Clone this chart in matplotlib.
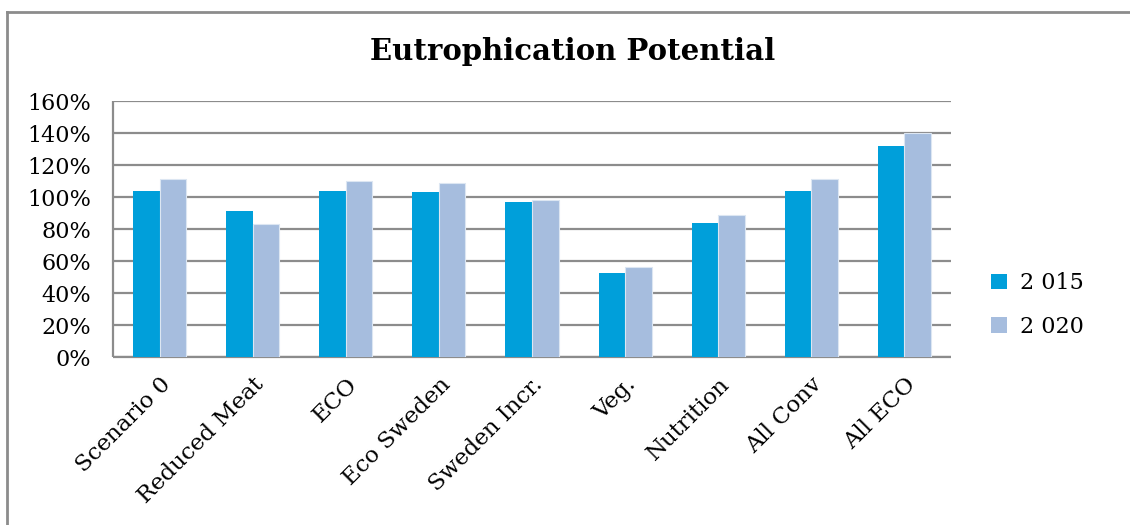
import numpy as np
import matplotlib.pyplot as plt
from matplotlib.patches import Patch
from matplotlib.lines import Line2D

categories = ["Scenario 0", "Reduced Meat", "ECO", "Eco Sweden", "Sweden Incr.",
              "Veg.", "Nutrition", "All Conv", "All ECO"]
series_names = ["2 015", "2 020"]
values_2015 = [104, 91, 103.5, 103, 97, 52.5, 83.5, 104, 132]
values_2020 = [111, 83, 110, 109, 98, 56, 89, 111, 140]
yticks = [0, 20, 40, 60, 80, 100, 120, 140, 160]

colors = ["#009FDA", "#A6BDDE"]
plt.rcParams["font.family"] = ["DejaVu Serif"]

fig = plt.figure(figsize=(11.3, 5.25), dpi=100)
W, H = 1130, 525

# plot area in pixels: x 113..951, y 101..357
ax = fig.add_axes([113 / W, 1 - 357 / H, (951 - 113) / W, (357 - 101) / H])

x = np.arange(len(categories))
bw = 0.285
ax.bar(x - bw / 2, values_2015, bw, color=colors[0], zorder=3)
ax.bar(x + bw / 2, values_2020, bw, color=colors[1], edgecolor="#DCE6F2",
       linewidth=0.8, zorder=3)

ax.set_xlim(-0.5, len(categories) - 0.5)
ax.set_ylim(0, 160)
ax.set_yticks(yticks)
ax.set_yticklabels([f"{v}%" for v in yticks], fontsize=16)
ax.yaxis.grid(True, color="#8C8C8C", linewidth=1.6, zorder=0)
ax.set_axisbelow(True)
ax.tick_params(length=0, pad=16)
ax.set_xticks(x)
ax.set_xticklabels(categories, rotation=45, ha="right", rotation_mode="anchor",
                   fontsize=16.5)
ax.tick_params(axis="x", pad=12)

for s in ["top", "right"]:
    ax.spines[s].set_visible(False)
for s in ["left", "bottom"]:
    ax.spines[s].set_color("#8C8C8C")
    ax.spines[s].set_linewidth(1.6)
    ax.spines[s].set_capstyle("butt")

fig.text(573 / W, 1 - 51 / H, "Eutrophication Potential", ha="center",
         va="center", fontsize=21, fontweight="bold")

handles = [Patch(facecolor=c) for c in colors]
fig.legend(handles, series_names, loc="center left",
           bbox_to_anchor=(971 / W, 1 - 305 / H), frameon=False, fontsize=16,
           handlelength=0.7, handleheight=0.7, handletextpad=0.6,
           labelspacing=0.95)

# outer chart frame (top and left edges)
fig.add_artist(Line2D([7 / W, 7 / W], [0, 1 - 12 / H], transform=fig.transFigure,
                      color="#8C8C8C", linewidth=2))
fig.add_artist(Line2D([7 / W, 1], [1 - 12 / H, 1 - 12 / H], transform=fig.transFigure,
                      color="#8C8C8C", linewidth=2))

fig.savefig("out.png", dpi=100)
